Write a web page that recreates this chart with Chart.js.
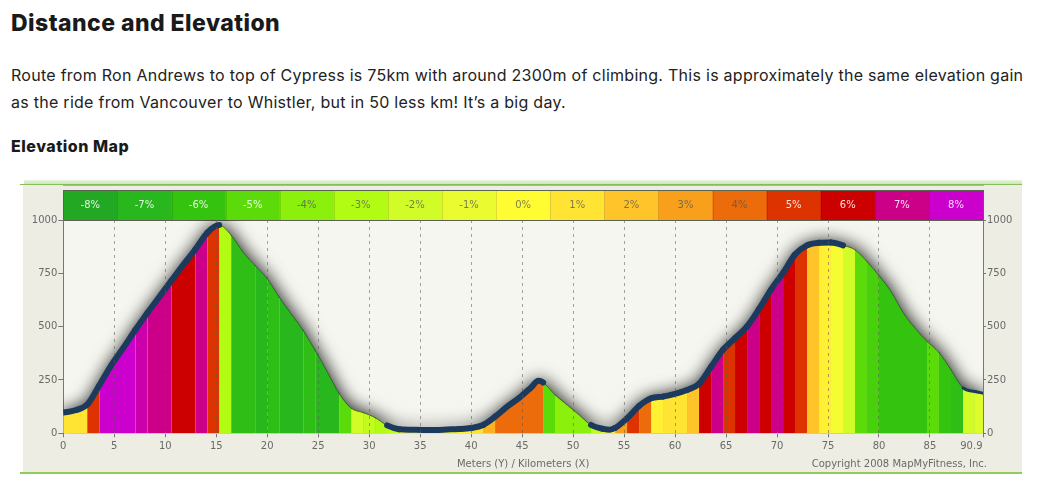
<!DOCTYPE html>
<html>
<head>
<meta charset="utf-8">
<script src="https://cdn.jsdelivr.net/npm/chart.js@4.4.0/dist/chart.umd.min.js"></script>
<style>
html,body{margin:0;padding:0;background:#fff;width:1054px;height:490px;overflow:hidden;}
body{position:relative;font-family:Inter,"Noto Sans",sans-serif;color:#1a1a1a;}
h1{position:absolute;left:11px;top:12px;margin:0;font-size:23px;line-height:23px;font-weight:800;letter-spacing:0.45px;white-space:nowrap;}
p{position:absolute;left:11px;top:62px;margin:0;font-size:16px;line-height:26.5px;font-weight:400;color:#222;letter-spacing:0.27px;white-space:nowrap;}
h2{position:absolute;left:11px;top:138px;margin:0;font-size:16px;line-height:16px;font-weight:800;letter-spacing:0.5px;white-space:nowrap;}
#band{position:absolute;left:24px;top:180px;width:998px;height:4px;background:linear-gradient(#e9f5e0,#cbe6b6);}
#topline{position:absolute;left:20px;top:184px;width:1002px;height:1px;background:#86bf5a;}
#frame{position:absolute;left:23px;top:185px;width:999px;height:287px;background:#EDEDE3;}
#botline{position:absolute;left:20px;top:472px;width:1002px;height:2px;background:#92cc58;}
.grip{position:absolute;background-image:radial-gradient(circle,#9aa68a 0.45px,transparent 0.7px);background-size:2px 2px;}
canvas{display:block;}
</style>
</head>
<body>
<h1>Distance and Elevation</h1>
<p>Route from Ron Andrews to top of Cypress is 75km with around 2300m of climbing. This is approximately the same elevation gain<br>as the ride from Vancouver to Whistler, but in 50 less km! It’s a big day.</p>
<h2>Elevation Map</h2>
<div id="band"></div>
<div id="topline"></div>
<div id="frame"><canvas id="c" width="999" height="287"></canvas></div>
<div id="botline"></div>
<div class="grip" style="left:604px;top:179px;width:14px;height:4px;"></div>
<div class="grip" style="left:19px;top:312px;width:4px;height:13px;"></div>
<div class="grip" style="left:19px;top:181px;width:4px;height:4px;"></div>
<div class="grip" style="left:19px;top:470px;width:4px;height:4px;"></div>
<script>
// ---- data ----
const kmPoints = [0, 1.18, 2.35, 3.53, 4.71, 5.88, 7.06, 8.24, 9.41, 10.59, 11.76, 12.94, 14.12, 15.29,
  16.47, 17.65, 18.82, 20.0, 21.18, 22.35, 23.53, 24.71, 25.88, 27.06, 28.24, 29.41, 30.59, 31.76,
  32.94, 34.12, 35.29, 36.47, 37.65, 38.82, 40.0, 41.18, 42.35, 43.53, 44.71, 45.88, 46.6, 47.06,
  48.24, 49.41, 50.59, 51.76, 52.94, 53.6, 54.12, 55.29, 56.47, 57.65, 58.82, 60.0, 61.18, 62.35,
  63.53, 64.71, 65.88, 67.06, 68.24, 69.41, 70.59, 71.76, 72.94, 74.12, 75.29, 76.47, 77.65, 78.82,
  80.0, 81.18, 82.35, 83.53, 84.71, 85.88, 87.06, 88.24, 89.41, 90.2];
const elevation = [97, 108, 135, 225, 320, 400, 484, 564, 639, 715, 790, 862, 940, 976,
  928, 848, 786, 725, 638, 560, 482, 388, 289, 186, 117, 97, 73, 37,
  19, 17, 16, 16, 18, 20, 25, 39, 78, 125, 166, 215, 246, 238,
  180, 133, 86, 39, 21, 17, 25, 70, 128, 164, 172, 185, 203, 232,
  312, 392, 446, 501, 583, 674, 752, 838, 881, 893, 895, 881, 860, 805,
  739, 665, 567, 493, 431, 379, 298, 213, 196, 188];
// grade (%) of the stretch that starts at each point
const grade = [1, 1, 5, 8, 8, 8, 7.5, 7, 7, 6, 6, 7, 5, -3,
  -6.5, -6.5, -7, -6.5, -7, -7, -6.5, -7, -7, -5, -2, -2.5, -3, -2.5,
  0, 0, 0, 0, 0, 0.5, 1, 2.5, 4, 4, 4, 4, 4, -5,
  -4, -4, -4, -2.5, 0, 0, 3, 5, 4, 0.5, 1, 1, 2, 6,
  7, 5, 6, 7, 6, 7, 6, 5, 2, 0.5, -0.5, -2, -5, -5.5,
  -6, -6, -6, -6, -5, -6, -6.5, -2, -1.5, -1.5];
const boldRanges = [[0, 15.29], [31.76, 47.06], [51.76, 76.47]];
const semiBoldRanges = [[88.24, 90.2]];
const legendGrades = [-8, -7, -6, -5, -4, -3, -2, -1, 0, 1, 2, 3, 4, 5, 6, 7, 8];
const legendColors = ['#22A823', '#28B71D', '#34C40F', '#5BDC0A', '#8AF00C', '#B2FC14', '#D2FC27', '#EAFC30',
  '#FFFC32', '#FFE434', '#FFC42A', '#F8A01C', '#EC6C0C', '#DC3300', '#CC0000', '#CC0088', '#CC00CC'];
const yTicks = [0, 250, 500, 750, 1000];
const xTicks = [0, 5, 10, 15, 20, 25, 30, 35, 40, 45, 50, 55, 60, 65, 70, 75, 80, 85];
const xEnd = 90.2;
const xEndLabel = '90.9';
const axisTitle = 'Meters (Y) / Kilometers (X)';
const copyright = 'Copyright 2008 MapMyFitness, Inc.';

// ---- helpers ----
function hexRgb(h){return [parseInt(h.substr(1,2),16),parseInt(h.substr(3,2),16),parseInt(h.substr(5,2),16)];}
function gradeColor(g){
  const c = Math.max(-8, Math.min(8, g));
  const i = Math.min(15, Math.floor(c) + 8);
  const f = c + 8 - i;
  const a = hexRgb(legendColors[i]), b = hexRgb(legendColors[i+1]);
  return 'rgb(' + a.map((v,k)=>Math.round(v + (b[k]-v)*f)).join(',') + ')';
}
function inRanges(ctx, ranges){
  const x0 = ctx.p0.parsed.x, x1 = ctx.p1.parsed.x;
  return ranges.some(r => x0 >= r[0] - 0.001 && x1 <= r[1] + 0.001);
}
const FONT = 'DejaVu Sans';
const TICK = '#6a6a6a';
const NAVY = '#1C3A5E';
const THIN = 'rgba(30,70,25,0.7)';

const bgPlugin = {
  id: 'bg',
  beforeDraw(chart){
    const {ctx, chartArea:a} = chart;
    ctx.save();
    ctx.fillStyle = '#F6F6F0';
    ctx.fillRect(a.left, a.top, a.width, a.height);
    // grade legend band above the plot
    const top = a.top - 30, h = 30, w = a.width / legendGrades.length;
    ctx.font = '10px "' + FONT + '"';
    ctx.textAlign = 'center'; ctx.textBaseline = 'middle';
    legendGrades.forEach((g, i) => {
      const x = a.left + i * w;
      ctx.fillStyle = legendColors[i];
      ctx.fillRect(x, top, w + 0.5, h);
      ctx.strokeStyle = 'rgba(0,0,0,0.12)'; ctx.lineWidth = 1;
      if (i > 0){ ctx.beginPath(); ctx.moveTo(Math.round(x)+0.5, top); ctx.lineTo(Math.round(x)+0.5, top+h); ctx.stroke(); }
      const light = (g <= -5 || g >= 5);
      ctx.fillStyle = light ? 'rgba(255,255,255,0.88)' : 'rgba(85,85,85,0.75)';
      ctx.fillText(g + '%', x + w/2, top + h/2 + 0.5);
    });
    ctx.strokeStyle = '#5d6152'; ctx.lineWidth = 1;
    ctx.strokeRect(Math.round(a.left)+0.5, top+0.5, Math.round(a.width), h);
    ctx.restore();
  },
  beforeDatasetsDraw(chart){
    const meta = chart.getDatasetMeta(0);
    const pts = meta.data;
    const {ctx, chartArea:a} = chart;
    const yBase = chart.scales.y.getPixelForValue(0);
    ctx.save();
    ctx.beginPath(); ctx.rect(a.left, a.top, a.width, a.height); ctx.clip();
    ctx.beginPath();
    ctx.moveTo(pts[0].x, yBase);
    ctx.lineTo(pts[0].x, pts[0].y);
    for (let i = 1; i < pts.length; i++){
      const p0 = pts[i-1], p1 = pts[i];
      ctx.bezierCurveTo(p0.cp2x, p0.cp2y, p1.cp1x, p1.cp1y, p1.x, p1.y);
    }
    ctx.lineTo(pts[pts.length-1].x, yBase);
    ctx.closePath();
    ctx.shadowColor = 'rgba(0,0,0,0.6)';
    ctx.shadowBlur = 18;
    ctx.fillStyle = '#b8b8b0';
    ctx.fill();
    ctx.fill();
    ctx.restore();
  },
  afterDraw(chart){
    const {ctx, chartArea:a} = chart;
    const xs = chart.scales.x;
    ctx.save();
    ctx.font = '10px "' + FONT + '"';
    ctx.fillStyle = TICK;
    ctx.textBaseline = 'middle';
    ctx.textAlign = 'center';
    ctx.fillText(axisTitle, (a.left + a.right)/2, a.bottom + 31);
    ctx.textAlign = 'right';
    ctx.fillText(copyright, a.right + 4, a.bottom + 31);
    // end-of-route label, right-aligned against the last tick, on the same line as the other x labels
    const items = xs._labelItems;
    let ly = a.bottom + 12, base = 'middle';
    if (items && items.length) {
      const it = items[0];
      const o = it.options || {};
      if (o.translation) {
        ly = o.translation[1] + (it.textOffset || 0);
        base = o.textBaseline || base;
      }
    }
    ctx.textBaseline = base;
    ctx.textAlign = 'right';
    ctx.fillText(xEndLabel, xs.getPixelForValue(xEnd) - 0.5, ly);
    ctx.restore();
  }
};

const chart = new Chart(document.getElementById('c'), {
  type: 'line',
  data: {
    datasets: [{
      data: kmPoints.map((x, i) => ({x: x, y: elevation[i]})),
      fill: 'origin',
      pointRadius: 0,
      pointHoverRadius: 0,
      borderWidth: 1,
      borderColor: THIN,
      backgroundColor: '#2c2',
      cubicInterpolationMode: 'monotone',
      borderCapStyle: 'round',
      borderJoinStyle: 'round',
      segment: {
        backgroundColor: ctx => gradeColor(grade[ctx.p0DataIndex]),
        borderColor: ctx => (inRanges(ctx, boldRanges) || inRanges(ctx, semiBoldRanges)) ? NAVY : THIN,
        borderWidth: ctx => inRanges(ctx, boldRanges) ? 6 : (inRanges(ctx, semiBoldRanges) ? 3 : 1)
      }
    }]
  },
  options: {
    responsive: false,
    animation: false,
    events: [],
    layout: {padding: {top: 35, left: 0, right: 0, bottom: 0}},
    plugins: {legend: {display: false}, tooltip: {enabled: false}},
    scales: {
      x: {
        type: 'linear', min: 0, max: xEnd,
        afterBuildTicks: s => { s.ticks = xTicks.concat([xEnd]).map(v => ({value: v})); },
        afterFit: s => { s.height = 38.7; },
        ticks: {
          autoSkip: false, maxRotation: 0, padding: 3,
          color: TICK, font: {family: FONT, size: 10},
          callback: v => v === xEnd ? '' : String(v)
        },
        grid: {
          z: 1, drawTicks: true, tickLength: 4, tickColor: '#777', tickWidth: 1,
          tickBorderDash: [],
          color: c => (c.tick && (c.tick.value === 0 || c.tick.value === xEnd)) ? 'rgba(0,0,0,0)' : 'rgba(90,90,90,0.55)'
        },
        border: {display: true, color: '#777', width: 1, dash: [3, 4]}
      },
      y: {
        type: 'linear', position: 'left', min: 0, max: 1000,
        afterBuildTicks: s => { s.ticks = yTicks.map(v => ({value: v})); },
        afterFit: s => { s.width = 40.3; },
        ticks: {padding: 1, color: TICK, font: {family: FONT, size: 10}, callback: v => String(v)},
        grid: {drawOnChartArea: false, drawTicks: true, tickLength: 5, tickColor: '#777'},
        border: {display: true, color: '#777', width: 1}
      },
      y2: {
        type: 'linear', position: 'right', min: 0, max: 1000,
        afterBuildTicks: s => { s.ticks = yTicks.map(v => ({value: v})); },
        afterFit: s => { s.width = 39; },
        ticks: {padding: 1, color: TICK, font: {family: FONT, size: 10}, callback: v => String(v)},
        grid: {drawOnChartArea: false, drawTicks: true, tickLength: 3, tickColor: '#777'},
        border: {display: true, color: '#777', width: 1}
      }
    }
  },
  plugins: [bgPlugin]
});
</script>
</body>
</html>
